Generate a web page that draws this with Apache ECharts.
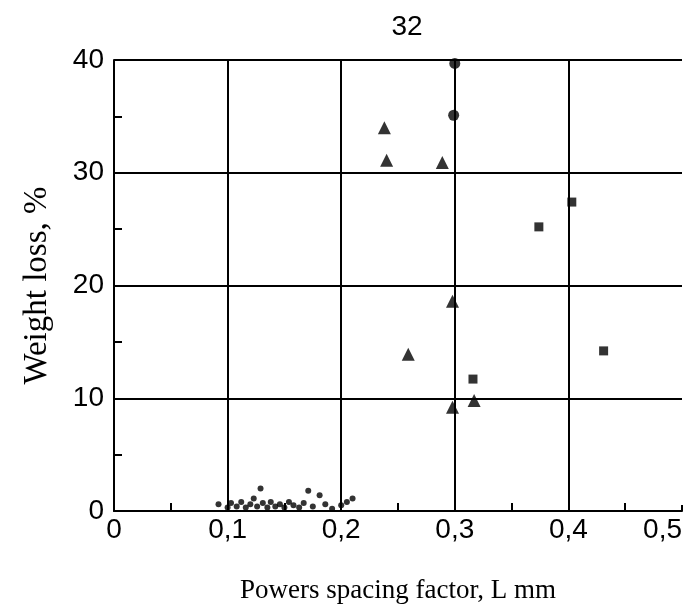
<!DOCTYPE html>
<html><head><meta charset="utf-8">
<script src="https://cdn.jsdelivr.net/npm/echarts@6/dist/echarts.min.js"></script>
<style>html,body{margin:0;padding:0;background:#fff}#c{width:686px;height:605px}</style>
</head><body><div id="c"></div>
<script>
const xTicks = [0, 0.1, 0.2, 0.3, 0.4, 0.5];
const yTicks = [0, 10, 20, 30, 40];
const triangles = [[0.238,34.0],[0.240,31.1],[0.289,30.9],[0.259,13.9],[0.298,18.6],[0.298,9.2],[0.317,9.8]];
const circles = [[0.300,39.7],[0.299,35.1]];
const squares = [[0.316,11.7],[0.374,25.2],[0.403,27.4],[0.431,14.2]];
const dots = [[0.092,0.6],[0.100,0.3],[0.103,0.7],[0.108,0.4],[0.112,0.8],[0.116,0.3],[0.120,0.6],[0.123,1.1],[0.126,0.4],[0.129,2.0],[0.131,0.7],[0.135,0.3],[0.138,0.8],[0.142,0.4],[0.146,0.6],[0.150,0.3],[0.154,0.8],[0.158,0.5],[0.163,0.3],[0.167,0.7],[0.171,1.8],[0.175,0.4],[0.181,1.4],[0.186,0.6],[0.192,0.2],[0.200,0.5],[0.205,0.8],[0.210,1.1]];

const chart = echarts.init(document.getElementById('c'));
const black = '#000';
chart.setOption({
  animation: false,
  title: {text: '32', left: 402, top: 8, textAlign: 'center',
    textStyle: {fontFamily: 'Liberation Sans', fontSize: 28, fontWeight: 'normal', color: black}},
  grid: {left: 114, right: 4, top: 60, bottom: 94, containLabel: false, outerBoundsMode: 'none'},
  xAxis: {
    type: 'value', min: 0, max: 0.5, interval: 0.1,
    name: 'Powers spacing factor, L mm', nameLocation: 'middle', nameGap: 66,
    nameTextStyle: {fontFamily: 'Liberation Serif', fontSize: 27, color: black},
    axisLine: {show: true, lineStyle: {color: black, width: 2}},
    axisTick: {show: true, inside: true, length: 6, lineStyle: {color: black, width: 2}},
    minorTick: {show: true, splitNumber: 2, length: 8, lineStyle: {color: black, width: 2}},
    axisLabel: {fontFamily: 'Liberation Sans', fontSize: 28, color: black, margin: 5, alignMaxLabel: 'right',
      formatter: v => xTicks.includes(+v.toFixed(2)) ? String(+v.toFixed(2)).replace('.', ',') : ''},
    splitLine: {show: true, showMinLine: false, showMaxLine: false, lineStyle: {color: black, width: 2}}
  },
  yAxis: {
    type: 'value', min: 0, max: 40, interval: 10,
    name: 'Weight loss, %', nameLocation: 'middle', nameGap: 60, nameRotate: 90,
    nameTextStyle: {fontFamily: 'Liberation Serif', fontSize: 33, color: black},
    axisLine: {show: true, lineStyle: {color: black, width: 2}},
    axisTick: {show: true, inside: true, length: 6, lineStyle: {color: black, width: 2}},
    minorTick: {show: true, splitNumber: 2, length: 8, lineStyle: {color: black, width: 2}},
    axisLabel: {fontFamily: 'Liberation Sans', fontSize: 28, color: black, margin: 10,
      formatter: v => yTicks.includes(v) ? String(v) : ''},
    splitLine: {show: true, showMinLine: false, lineStyle: {color: black, width: 2}}
  },
  series: [
    {type: 'scatter', data: triangles, symbol: 'triangle', symbolSize: 13, itemStyle: {color: black}},
    {type: 'scatter', data: circles, symbol: 'circle', symbolSize: 11, itemStyle: {color: black}},
    {type: 'scatter', data: squares, symbol: 'rect', symbolSize: 9, itemStyle: {color: black}},
    {type: 'scatter', data: dots, symbol: 'circle', symbolSize: 6, itemStyle: {color: black}}
  ]
});
</script></body></html>
